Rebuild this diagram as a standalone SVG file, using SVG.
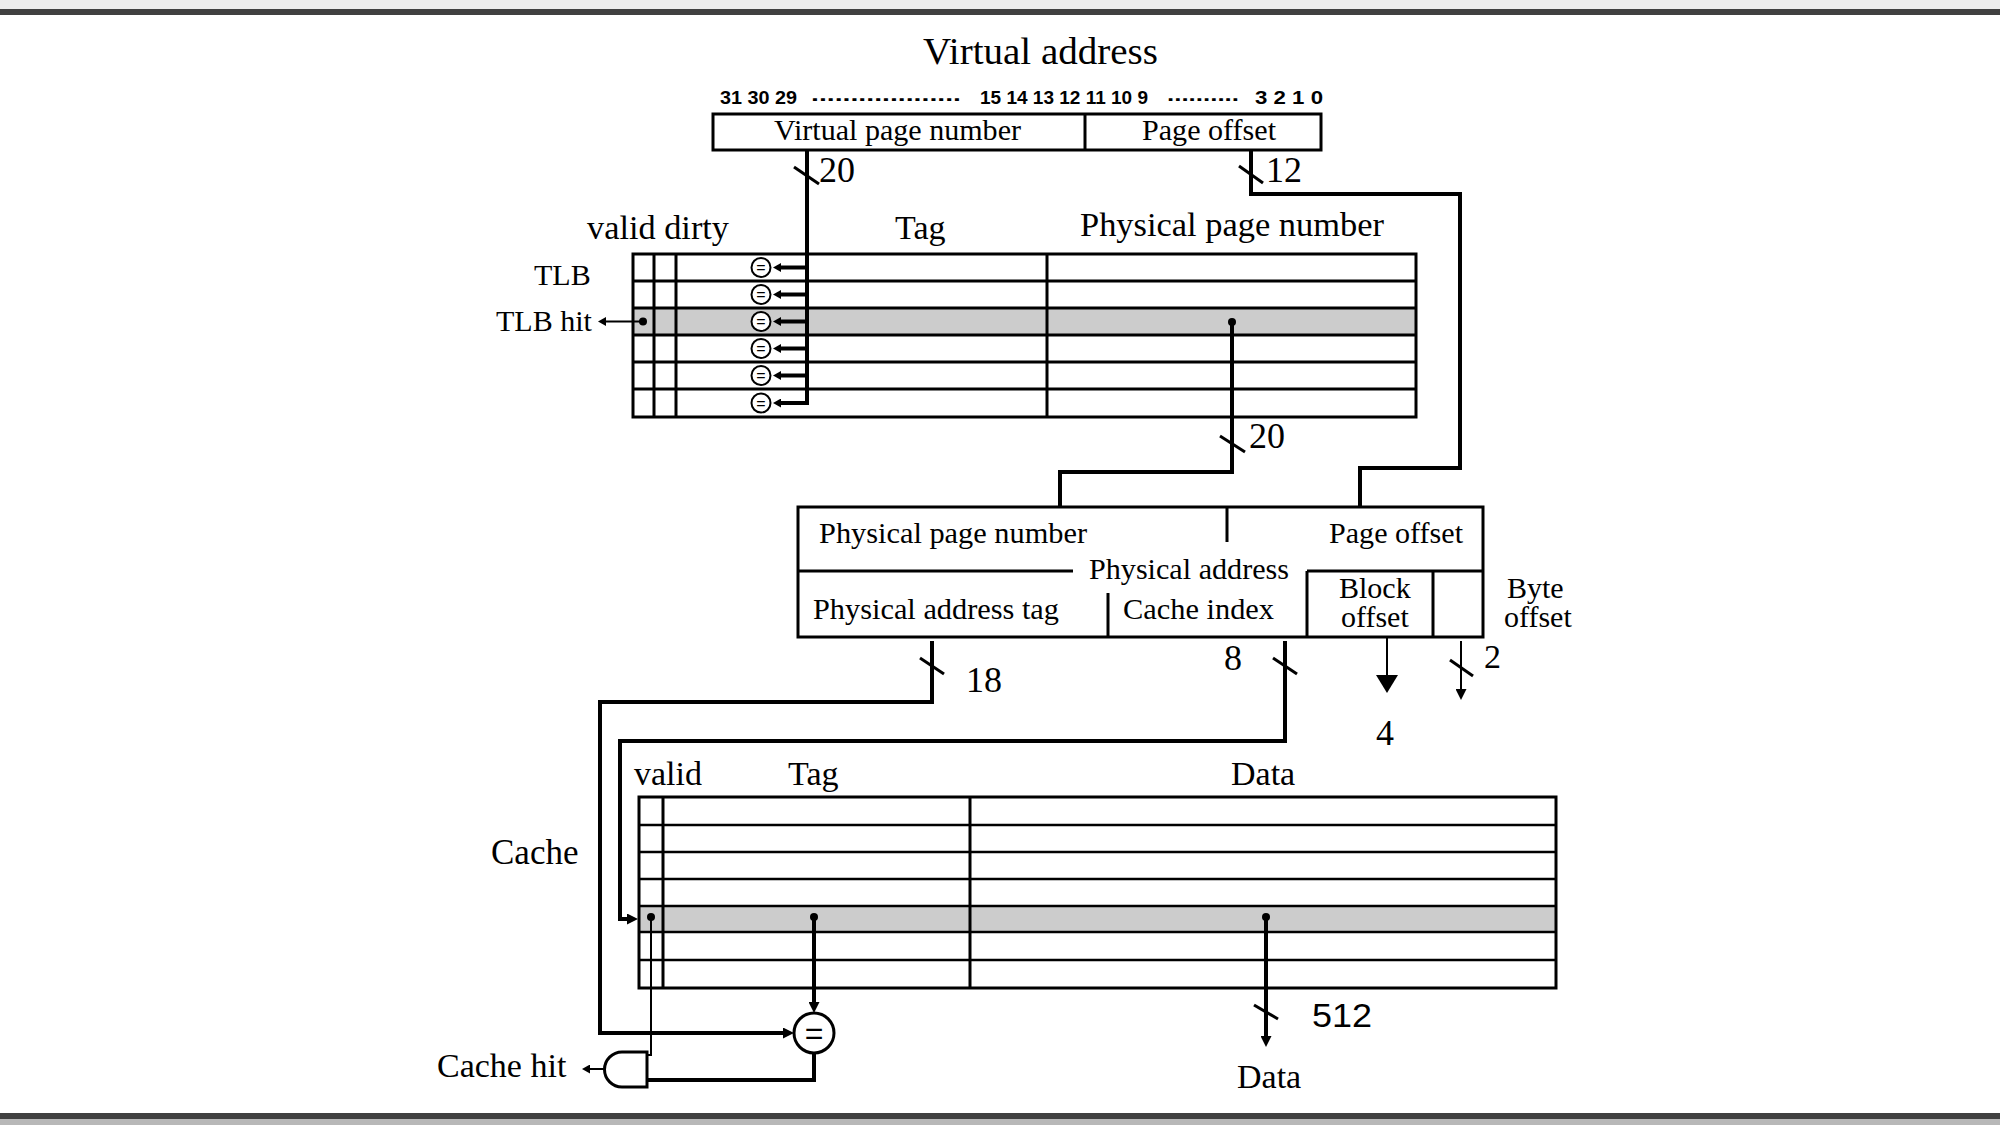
<svg xmlns="http://www.w3.org/2000/svg" width="2000" height="1125" viewBox="0 0 2000 1125">
<style>
.t{font-family:"Liberation Serif","Times New Roman",serif;fill:#000}
.bn{font-family:"Liberation Sans",Arial,sans-serif;font-weight:bold;font-size:19px;fill:#000}
.eq{font-family:"Liberation Sans",Arial,sans-serif;fill:#000;text-anchor:middle}
.tb{fill:none;stroke:#000;stroke-width:3}
.rl{fill:none;stroke:#000;stroke-width:2.5}
.w{fill:none;stroke:#000;stroke-width:4}
.th{fill:none;stroke:#000;stroke-width:2}
.sl{fill:none;stroke:#000;stroke-width:3}
.hl{fill:#cccccc}
.cmp{fill:#fff;stroke:#000;stroke-width:2}
</style>
<defs>
<marker id="s" markerUnits="userSpaceOnUse" markerWidth="8" markerHeight="9" refX="3" refY="4.5" orient="auto"><path d="M0,0 L8,4.5 L0,9 z" fill="#000"/></marker>
<marker id="m" markerUnits="userSpaceOnUse" markerWidth="11" markerHeight="11" refX="4" refY="5.5" orient="auto"><path d="M0,0 L11,5.5 L0,11 z" fill="#000"/></marker>
<marker id="big" markerUnits="userSpaceOnUse" markerWidth="18" markerHeight="22" refX="9" refY="11" orient="auto"><path d="M0,0 L18,11 L0,22 z" fill="#000"/></marker>
</defs>
<rect width="2000" height="1125" fill="#fff"/>
<g id="frame">
<rect x="0" y="0" width="2000" height="9" fill="#ececec"/>
<rect x="0" y="9" width="2000" height="6" fill="#404040"/>
<rect x="0" y="1113" width="2000" height="6" fill="#404040"/>
<rect x="0" y="1119" width="2000" height="6" fill="#b8b8b8"/>
</g>

<g id="virtual-address">
<text class="t" x="923" y="64" font-size="38" textLength="235" lengthAdjust="spacingAndGlyphs">Virtual address</text>
<text class="bn" x="720" y="104" textLength="77" lengthAdjust="spacingAndGlyphs">31 30 29</text>
<text class="bn" x="811" y="101" textLength="150" lengthAdjust="spacingAndGlyphs">...................</text>
<text class="bn" x="980" y="104" textLength="168" lengthAdjust="spacingAndGlyphs">15 14 13 12 11 10 9</text>
<text class="bn" x="1167" y="101" textLength="72" lengthAdjust="spacingAndGlyphs">..........</text>
<text class="bn" x="1255" y="104" textLength="68" lengthAdjust="spacingAndGlyphs">3 2 1 0</text>
<rect class="tb" x="713" y="114" width="608" height="36"/>
<line class="tb" x1="1085" y1="114" x2="1085" y2="150"/>
<text class="t" x="774" y="140" font-size="30" textLength="247" lengthAdjust="spacingAndGlyphs">Virtual page number</text>
<text class="t" x="1142" y="140" font-size="30" textLength="134" lengthAdjust="spacingAndGlyphs">Page offset</text>
</g>

<g id="tlb">
<text class="t" x="587" y="239" font-size="34" textLength="142" lengthAdjust="spacingAndGlyphs">valid dirty</text>
<text class="t" x="895" y="239" font-size="34">Tag</text>
<text class="t" x="1080" y="236" font-size="34" textLength="304" lengthAdjust="spacingAndGlyphs">Physical page number</text>
<text class="t" x="534" y="285" font-size="30">TLB</text>
<text class="t" x="496" y="331" font-size="30">TLB hit</text>
<rect class="hl" x="633" y="308" width="783" height="27"/>
<rect class="tb" x="633" y="254" width="783" height="163"/>
<path class="tb" d="M633,281 H1416 M633,308 H1416 M633,335 H1416 M633,362 H1416 M633,389 H1416 M654,254 V417 M676,254 V417 M1047,254 V417"/>
<g id="tlb-comparators">
<circle class="cmp" cx="761" cy="267.5" r="9.5"/><text class="eq" x="761" y="273" font-size="16">=</text>
<circle class="cmp" cx="761" cy="294.5" r="9.5"/><text class="eq" x="761" y="300" font-size="16">=</text>
<circle class="cmp" cx="761" cy="321.5" r="9.5" fill="#ccc"/><text class="eq" x="761" y="327" font-size="16">=</text>
<circle class="cmp" cx="761" cy="348.5" r="9.5"/><text class="eq" x="761" y="354" font-size="16">=</text>
<circle class="cmp" cx="761" cy="375.5" r="9.5"/><text class="eq" x="761" y="381" font-size="16">=</text>
<circle class="cmp" cx="761" cy="403" r="9.5"/><text class="eq" x="761" y="408.5" font-size="16">=</text>
</g>
</g>

<g id="physical-address">
<rect class="tb" x="798" y="507" width="685" height="130"/>
<path class="tb" d="M798,571 H1073 M1307,571 H1483 M1227,507 V542 M1108,593 V637 M1307,571 V637 M1433,571 V637"/>
<text class="t" x="819" y="543" font-size="30" textLength="268" lengthAdjust="spacingAndGlyphs">Physical page number</text>
<text class="t" x="1329" y="543" font-size="30" textLength="134" lengthAdjust="spacingAndGlyphs">Page offset</text>
<text class="t" x="1089" y="579" font-size="30" textLength="200" lengthAdjust="spacingAndGlyphs">Physical address</text>
<text class="t" x="813" y="619" font-size="30" textLength="246" lengthAdjust="spacingAndGlyphs">Physical address tag</text>
<text class="t" x="1123" y="619" font-size="30" textLength="151" lengthAdjust="spacingAndGlyphs">Cache index</text>
<text class="t" x="1339" y="598" font-size="30">Block</text>
<text class="t" x="1341" y="627" font-size="30">offset</text>
<text class="t" x="1507" y="598" font-size="30">Byte</text>
<text class="t" x="1504" y="627" font-size="30">offset</text>
</g>

<g id="cache">
<text class="t" x="634" y="785" font-size="34">valid</text>
<text class="t" x="788" y="785" font-size="34">Tag</text>
<text class="t" x="1231" y="785" font-size="34">Data</text>
<text class="t" x="491" y="864" font-size="35">Cache</text>
<rect class="hl" x="639" y="906" width="917" height="26"/>
<rect class="tb" x="639" y="797" width="917" height="191"/>
<path class="rl" d="M639,825 H1556 M639,852 H1556 M639,879 H1556 M639,906 H1556 M639,932 H1556 M639,960 H1556"/>
<path class="tb" d="M663,797 V988 M970,797 V988"/>
</g>

<g id="tag-comparator">
<circle cx="814" cy="1033" r="20" fill="#fff" stroke="#000" stroke-width="3"/>
<text class="eq" x="814" y="1044" font-size="32">=</text>
</g>

<g id="and-gate">
<path d="M647,1052 H622 A17.5,17.5 0 0 0 622,1087 H647 Z" fill="#fff" stroke="#000" stroke-width="3"/>
<text class="t" x="437" y="1077" font-size="34">Cache hit</text>
</g>

<g id="data-out">
<text class="t" x="1237" y="1088" font-size="34">Data</text>
</g>

<g id="connectors">
<path class="w" d="M807,150 V403 H778" marker-end="url(#s)"/>
<path class="w" d="M807,267.5 H778" marker-end="url(#s)"/>
<path class="w" d="M807,294.5 H778" marker-end="url(#s)"/>
<path class="w" d="M807,321.5 H778" marker-end="url(#s)"/>
<path class="w" d="M807,348.5 H778" marker-end="url(#s)"/>
<path class="w" d="M807,375.5 H778" marker-end="url(#s)"/>
<line class="sl" x1="794" y1="167" x2="819" y2="184"/>
<text class="t" x="819" y="182" font-size="36">20</text>

<path class="th" d="M643,321.5 H603" marker-end="url(#s)"/>
<circle cx="643" cy="321.5" r="4"/>

<path class="w" d="M1251,150 V194 H1460 V468 H1360 V507"/>
<line class="sl" x1="1239" y1="166" x2="1263" y2="183"/>
<text class="t" x="1266" y="182" font-size="36">12</text>

<path class="w" d="M1232,322 V472 H1060 V507"/>
<circle cx="1232" cy="322" r="4"/>
<line class="sl" x1="1220" y1="436" x2="1245" y2="452"/>
<text class="t" x="1249" y="448" font-size="36">20</text>

<path class="w" d="M932,641 V702 H600 V1033 H787" marker-end="url(#m)"/>
<line class="sl" x1="920" y1="658" x2="944" y2="674"/>
<text class="t" x="966" y="692" font-size="36">18</text>

<path class="w" d="M1285,641 V741 H620 V919 H631" marker-end="url(#m)"/>
<line class="sl" x1="1273" y1="658" x2="1297" y2="674"/>
<text class="t" x="1224" y="670" font-size="36">8</text>

<path class="th" d="M1387,638 V684" marker-end="url(#big)"/>
<text class="t" x="1376" y="745" font-size="36">4</text>

<path class="th" d="M1461,641 V693" marker-end="url(#m)"/>
<line class="sl" x1="1450" y1="660" x2="1473" y2="676"/>
<text class="t" x="1484" y="668" font-size="34">2</text>

<circle cx="814" cy="917" r="4"/>
<path class="w" d="M814,917 V1006" marker-end="url(#m)"/>
<circle cx="651" cy="917" r="4"/>
<path class="th" d="M651,917 V1055 H647"/>
<path class="w" d="M814,1053 V1080 H647"/>
<path class="th" d="M605,1069 H587" marker-end="url(#s)"/>

<circle cx="1266" cy="917" r="4"/>
<path class="w" d="M1266,917 V1040" marker-end="url(#m)"/>
<line class="sl" x1="1254" y1="1005" x2="1278" y2="1019"/>
<text x="1312" y="1027" font-family="'Liberation Sans',Arial,sans-serif" font-size="34" textLength="60" lengthAdjust="spacingAndGlyphs">512</text>
</g>
</svg>
